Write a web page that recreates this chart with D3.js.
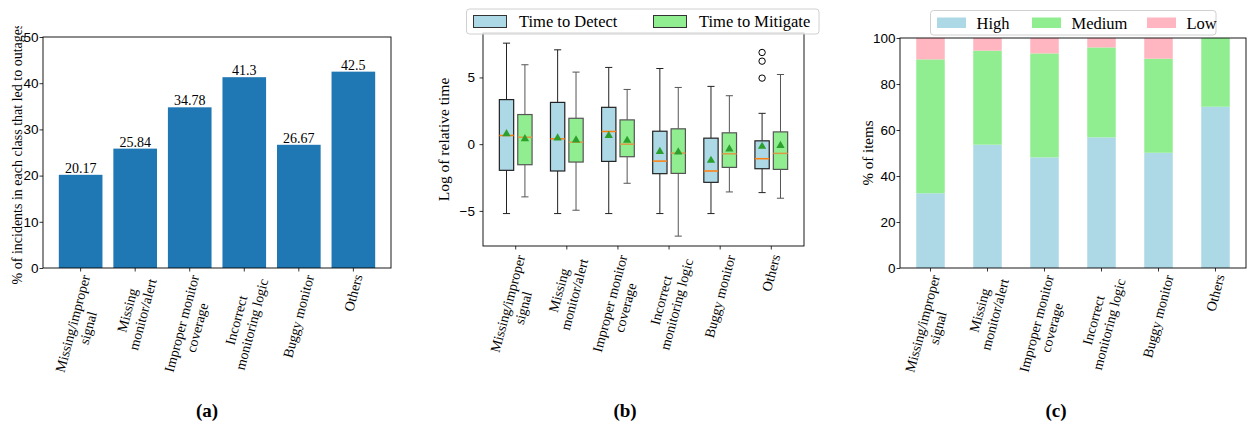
<!DOCTYPE html>
<head>
  <meta charset="utf-8">
  <script src="https://d3js.org/d3.v7.min.js"></script>
  <style>
    body { margin:0; background:white; }
    svg { font-family: "Liberation Serif", "DejaVu Serif", serif; }
    .tick line { stroke: #000; stroke-width: 0.8; }
    .tick text { font-size: 13.5px; fill: #000; }
  </style>
</head>
<body>
<script>
// categories shared by all three panels
var categories = ["Missing/improper\nsignal", "Missing\nmonitor/alert", "Improper monitor\ncoverage",
  "Incorrect\nmonitoring logic", "Buggy monitor", "Others"];

// (a) % of incidents that led to outages
var outagePct = [20.17, 25.84, 34.78, 41.3, 26.67, 42.5];

// (b) box stats, log of relative time
var detectLow  = [-5.2, -5.2, -5.2, -5.2, -5.2, -3.63];
var detectQ1   = [-1.96, -2.01, -1.29, -2.21, -2.86, -1.84];
var detectMed  = [0.65, 0.4, 0.95, -1.27, -2.01, -1.09];
var detectQ3   = [3.34, 3.13, 2.76, 0.97, 0.45, 0.25];
var detectHigh = [7.57, 7.07, 5.75, 5.67, 4.33, 2.31];
var detectMean = [0.77, 0.45, 0.65, -0.55, -1.22, -0.17];
var detectOut  = [[], [], [], [], [], [6.87, 6.22, 4.95]];

var mitigateLow  = [-3.95, -4.95, -2.93, -6.89, -3.58, -4.05];
var mitigateQ1   = [-1.54, -1.34, -0.94, -2.19, -1.74, -1.89];
var mitigateMed  = [0.52, 0.15, 0, -0.67, -0.72, -0.69];
var mitigateQ3   = [2.22, 1.94, 1.82, 1.15, 0.85, 0.92];
var mitigateHigh = [5.95, 5.4, 4.1, 4.25, 3.63, 5.22];
var mitigateMean = [0.4, 0.3, 0.28, -0.6, -0.37, -0.1];
var mitigateOut  = [[], [], [], [], [], []];

// (c) severity split, % of items
var severityKeys = ["High", "Medium", "Low"];
var highPct   = [32.5, 53.6, 48.1, 56.8, 50.1, 70.1];
var mediumPct = [58.2, 40.9, 45.2, 39.1, 40.9, 29.9];
var lowPct    = [9.3, 5.5, 6.7, 4.1, 9.0, 0];

var svg = d3.select("body").append("svg")
  .attr("width", 1248)
  .attr("height", 423);

// rotated multi-line tick label, bbox centred on x and hanging from y (like matplotlib)
function rotLabel(g, x, y, text, angle) {
  var outer = g.append("g").attr("transform", "translate(" + x + "," + y + ")");
  var inner = outer.append("g");
  var t = inner.append("text")
    .attr("text-anchor", "middle")
    .style("font-size", "14px");
  text.split("\n").forEach(function(l, i) {
    t.append("tspan").attr("x", 0).attr("y", i * 16).text(l);
  });
  var bb = t.node().getBBox();
  var a = -angle * Math.PI / 180;
  var xs = [], ys = [];
  [[bb.x, bb.y], [bb.x + bb.width, bb.y], [bb.x, bb.y + bb.height], [bb.x + bb.width, bb.y + bb.height]]
    .forEach(function(p) {
      xs.push(p[0] * Math.cos(a) - p[1] * Math.sin(a));
      ys.push(p[0] * Math.sin(a) + p[1] * Math.cos(a));
    });
  var dx = -(d3.min(xs) + d3.max(xs)) / 2, dy = -d3.min(ys);
  inner.attr("transform", "translate(" + dx + "," + dy + ") rotate(" + (-angle) + ")");
}

function frame(g, x, y) {
  var r = x.range(), d = y.range();
  g.append("rect")
    .attr("x", r[0]).attr("y", d[1])
    .attr("width", r[1] - r[0]).attr("height", d[0] - d[1])
    .attr("fill", "none").attr("stroke", "#000").attr("stroke-width", 0.9);
}

function xTicks(g, x, y, gap) {
  var base = y.range()[0];
  categories.forEach(function(c, i) {
    g.append("line").attr("x1", x(i)).attr("x2", x(i))
      .attr("y1", base).attr("y2", base + 3.5)
      .attr("stroke", "#000").attr("stroke-width", 0.8);
    rotLabel(g, x(i), base + gap, c, 75);
  });
}

function yAxis(g, x, y, ticks, pad) {
  g.append("g")
    .attr("transform", "translate(" + x.range()[0] + ",0)")
    .call(d3.axisLeft(y).tickValues(ticks).tickSize(3.5).tickPadding(pad).tickFormat(d3.format("d")))
    .call(function(s) { s.select(".domain").remove(); });
}

function legend(g, x0, y0, w, h, items, patchW, patchH, gap) {
  g.append("rect")
    .attr("x", x0).attr("y", y0).attr("width", w).attr("height", h)
    .attr("rx", 3).attr("fill", "white").attr("fill-opacity", 0.8)
    .attr("stroke", "#d0d0d0").attr("stroke-width", 1);
  items.forEach(function(it) {
    g.append("rect")
      .attr("x", it.x).attr("y", y0 + (h - patchH) / 2)
      .attr("width", patchW).attr("height", patchH)
      .attr("fill", it.color)
      .attr("stroke", it.stroke || "none").attr("stroke-width", 1);
    g.append("text")
      .attr("x", it.x + patchW + gap).attr("y", y0 + h / 2)
      .attr("dy", "0.35em")
      .style("font-size", "16.5px")
      .text(it.label);
  });
}

function caption(x, label) {
  svg.append("text").attr("x", x).attr("y", 417)
    .attr("text-anchor", "middle").style("font-size", "19px").style("font-weight", "bold")
    .text(label);
}

// ---------- (a) ----------
var ga = svg.append("g");
var xa = d3.scaleLinear().domain([-0.69, 5.69]).range([43, 391]);
var ya = d3.scaleLinear().domain([0, 50]).range([268, 37]);

ga.selectAll(".bar").data(outagePct).enter().append("rect")
  .attr("class", "bar")
  .attr("x", function(d, i) { return xa(i - 0.4); })
  .attr("width", xa(0.4) - xa(-0.4))
  .attr("y", function(d) { return ya(d); })
  .attr("height", function(d) { return ya(0) - ya(d); })
  .attr("fill", "#1f77b4");

ga.selectAll(".val").data(outagePct).enter().append("text")
  .attr("class", "val")
  .attr("x", function(d, i) { return xa(i); })
  .attr("y", function(d) { return ya(d) - 2; })
  .attr("text-anchor", "middle")
  .style("font-size", "14px")
  .text(function(d) { return d; });

frame(ga, xa, ya);
yAxis(ga, xa, ya, [0, 10, 20, 30, 40, 50], 1);
xTicks(ga, xa, ya, 5);

svg.append("clipPath").attr("id", "clipA")
  .append("rect").attr("x", 0).attr("y", 26).attr("width", 40).attr("height", 400);
ga.append("g")
  .attr("clip-path", "url(#clipA)")
  .append("text")
  .attr("transform", "translate(17,154) rotate(-90)")
  .attr("text-anchor", "middle")
  .attr("dy", "0.35em")
  .style("font-size", "14px")
  .text("% of incidents in each class that led to outages");

caption(207, "(a)");

// ---------- (b) ----------
var gb = svg.append("g");
var xb = d3.scaleLinear().domain([-0.64, 5.64]).range([483, 804]);
var yb = d3.scaleLinear().domain([-7.63, 8.33]).range([246, 33]);

var series = [
  { off: -0.18, fill: "#add8e6", stroke: "#222", med: "#ff7f0e",
    low: detectLow, q1: detectQ1, med_: detectMed, q3: detectQ3, high: detectHigh, mean: detectMean, out: detectOut },
  { off: 0.18, fill: "#90ee90", stroke: "#555", med: "#dd9a45",
    low: mitigateLow, q1: mitigateQ1, med_: mitigateMed, q3: mitigateQ3, high: mitigateHigh, mean: mitigateMean, out: mitigateOut }
];
var boxW = 0.28;

series.forEach(function(s) {
  categories.forEach(function(c, i) {
    var cx = xb(i + s.off);
    var half = (xb(boxW / 2) - xb(0));
    // whiskers
    gb.append("line").attr("x1", cx).attr("x2", cx)
      .attr("y1", yb(s.high[i])).attr("y2", yb(s.q3[i]))
      .attr("stroke", s.stroke).attr("stroke-width", 1);
    gb.append("line").attr("x1", cx).attr("x2", cx)
      .attr("y1", yb(s.q1[i])).attr("y2", yb(s.low[i]))
      .attr("stroke", s.stroke).attr("stroke-width", 1);
    [s.high[i], s.low[i]].forEach(function(v) {
      gb.append("line").attr("x1", cx - half / 2).attr("x2", cx + half / 2)
        .attr("y1", yb(v)).attr("y2", yb(v))
        .attr("stroke", s.stroke).attr("stroke-width", 1);
    });
    // box
    gb.append("rect")
      .attr("x", cx - half).attr("width", 2 * half)
      .attr("y", yb(s.q3[i])).attr("height", yb(s.q1[i]) - yb(s.q3[i]))
      .attr("fill", s.fill).attr("stroke", s.stroke).attr("stroke-width", 1.2);
    gb.append("line").attr("x1", cx - half).attr("x2", cx + half)
      .attr("y1", yb(s.med_[i])).attr("y2", yb(s.med_[i]))
      .attr("stroke", s.med).attr("stroke-width", 1.5);
    // mean marker
    gb.append("path")
      .attr("transform", "translate(" + cx + "," + yb(s.mean[i]) + ")")
      .attr("d", d3.symbol(d3.symbolTriangle, 30)())
      .attr("fill", "#2ca02c");
    s.out[i].forEach(function(v) {
      gb.append("circle").attr("cx", cx).attr("cy", yb(v)).attr("r", 3.2)
        .attr("fill", "none").attr("stroke", "#000").attr("stroke-width", 1);
    });
  });
});

frame(gb, xb, yb);
gb.append("g")
  .attr("transform", "translate(" + xb.range()[0] + ",0)")
  .call(d3.axisLeft(yb).tickValues([-5, 0, 5]).tickSize(3.5).tickPadding(4.5))
  .call(function(s) { s.select(".domain").remove(); });
xTicks(gb, xb, yb, 7);

gb.append("text")
  .attr("transform", "translate(444,139.5) rotate(-90)")
  .attr("text-anchor", "middle")
  .attr("dy", "0.35em")
  .style("font-size", "15.5px")
  .text("Log of relative time");

legend(gb, 466.5, 9, 352.5, 25, [
  { x: 473.5, color: "#add8e6", stroke: "#333", label: "Time to Detect" },
  { x: 653.5, color: "#90ee90", stroke: "#333", label: "Time to Mitigate" }
], 33, 12, 12.5);

caption(625, "(b)");

// ---------- (c) ----------
var gc = svg.append("g");
var xc = d3.scaleLinear().domain([-0.535, 5.535]).range([900, 1246]);
var yc = d3.scaleLinear().domain([0, 100]).range([268, 38]);
var sevColor = d3.scaleOrdinal().domain(severityKeys).range(["#add8e6", "#90ee90", "#ffb6c1"]);

var sevRows = categories.map(function(c, i) {
  return { High: highPct[i], Medium: mediumPct[i], Low: lowPct[i] };
});
var stacked = d3.stack().keys(severityKeys)(sevRows);

gc.selectAll(".layer").data(stacked).enter().append("g")
  .attr("class", "layer")
  .attr("fill", function(d) { return sevColor(d.key); })
  .selectAll("rect").data(function(d) { return d; }).enter().append("rect")
  .attr("x", function(d, i) { return xc(i - 0.25); })
  .attr("width", xc(0.25) - xc(-0.25))
  .attr("y", function(d) { return yc(d[1]); })
  .attr("height", function(d) { return yc(d[0]) - yc(d[1]); });

frame(gc, xc, yc);
yAxis(gc, xc, yc, [0, 20, 40, 60, 80, 100], 1);
xTicks(gc, xc, yc, 5);

gc.append("text")
  .attr("transform", "translate(868,153) rotate(-90)")
  .attr("text-anchor", "middle")
  .attr("dy", "0.35em")
  .style("font-size", "15px")
  .text("% of items");

legend(gc, 930.5, 10.5, 285.5, 24.5, [
  { x: 937, color: sevColor("High"), label: "High" },
  { x: 1032, color: sevColor("Medium"), label: "Medium" },
  { x: 1147, color: sevColor("Low"), label: "Low" }
], 29, 10.5, 10.5);

caption(1056, "(c)");
</script>
</body>
